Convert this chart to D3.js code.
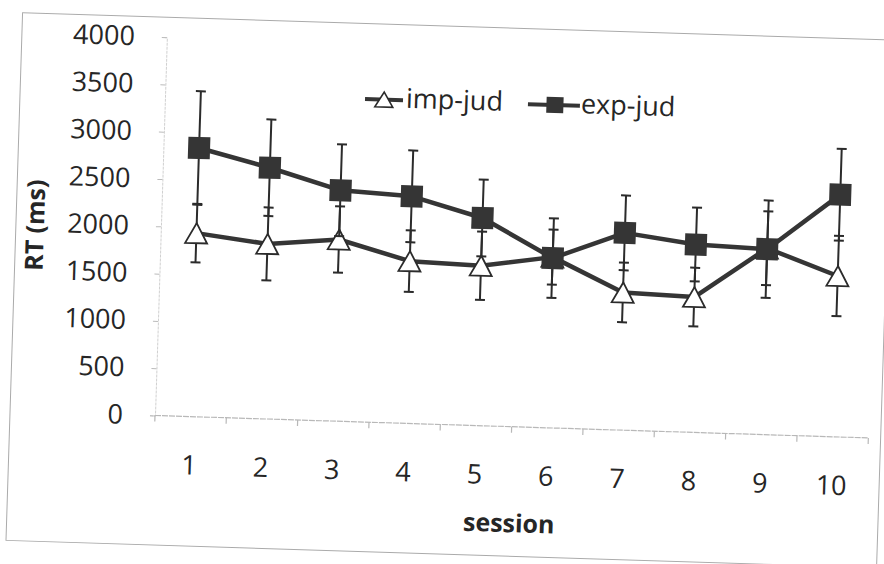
<!DOCTYPE html>
<html>
<head>
<meta charset="utf-8">
<script src="https://cdn.jsdelivr.net/npm/d3@7"></script>
<style>
  html, body { margin: 0; padding: 0; background: #fff; }
  svg { display: block; }
</style>
</head>
<body>
<svg id="chart" width="884" height="564"></svg>
<script>
// ---- data ----
const sessions = ["1","2","3","4","5","6","7","8","9","10"];
const impJud    = [1940, 1850, 1920, 1715, 1690, 1805, 1455, 1430, 1970, 1700];
const impJudErr = [310, 385, 350, 325, 360, 290, 315, 310, 390, 425];
const expJud    = [2840, 2655, 2440, 2400, 2195, 1795, 2085, 1985, 1960, 2560];
const expJudErr = [600, 510, 485, 485, 405, 420, 395, 390, 515, 485];
const yTicks = [0, 500, 1000, 1500, 2000, 2500, 3000, 3500, 4000];
const seriesNames = ["imp-jud", "exp-jud"];

// ---- layout ----
const ink = "#262626";
const svg = d3.select("#chart");
const root = svg.append("g").attr("transform", "rotate(1.8,155,415)");

const x = d3.scaleBand().domain(sessions).range([155, 868.7]).padding(0);
const y = d3.scaleLinear().domain([0, 4000]).range([415.5, 37]);
const cx = d => x(d) + x.bandwidth() / 2;

// outer chart border
root.append("rect")
  .attr("x", 10).attr("y", 17).attr("width", 871).attr("height", 528)
  .attr("fill", "none").attr("stroke", "#aaa").attr("stroke-width", 1);

// y axis
const yAxis = root.append("g").attr("transform", "translate(155,0)")
  .call(d3.axisLeft(y).tickValues(yTicks).tickSize(5).tickPadding(27).tickFormat(d3.format("d")));
yAxis.select(".domain").attr("stroke", "#d0d0d0").attr("stroke-dasharray", "3,1");
yAxis.selectAll(".tick line").attr("stroke", "#bbb");
yAxis.selectAll("text")
  .attr("font-family", "Open Sans").attr("font-size", 27).attr("fill", ink);

// x axis line + tick marks between categories
const xEdges = sessions.map(d => x(d)).concat([x(sessions[sessions.length - 1]) + x.bandwidth()]);
root.append("line")
  .attr("x1", xEdges[0]).attr("x2", xEdges[xEdges.length - 1])
  .attr("y1", y(0)).attr("y2", y(0))
  .attr("stroke", "#b8b8b8").attr("stroke-width", 1.2).attr("stroke-dasharray", "6,1");
root.selectAll(".xtick").data(xEdges).join("line")
  .attr("class", "xtick")
  .attr("x1", d => d).attr("x2", d => d)
  .attr("y1", y(0)).attr("y2", y(0) + 6)
  .attr("stroke", "#b8b8b8").attr("stroke-width", 1.2);
root.selectAll(".xlab").data(sessions).join("text")
  .attr("class", "xlab")
  .attr("x", d => cx(d)).attr("y", 473.5)
  .attr("text-anchor", "middle")
  .attr("font-family", "Open Sans").attr("font-size", 27).attr("fill", ink)
  .text(d => d);

// axis titles
root.append("text")
  .attr("x", 512).attr("y", 521)
  .attr("text-anchor", "middle")
  .attr("font-family", "Open Sans").attr("font-weight", "bold").attr("font-size", 25).attr("fill", ink)
  .text("session");
root.append("text")
  .attr("transform", "translate(38,229) rotate(-90)")
  .attr("text-anchor", "middle")
  .attr("font-family", "Open Sans").attr("font-weight", "bold").attr("font-size", 25).attr("fill", ink)
  .text("RT (ms)");

// shapes
const triW = 22, triH = 20;
const triPath = (w, h) => `M0,${-h/2}L${w/2},${h/2}L${-w/2},${h/2}Z`;
const sq = 22;

function drawSeries(vals, errs, kind) {
  const g = root.append("g");
  const pts = sessions.map((s, i) => ({ s, v: vals[i], e: errs[i] }));
  // error bars
  const eb = g.selectAll(".eb").data(pts).join("g");
  eb.append("line")
    .attr("x1", d => cx(d.s)).attr("x2", d => cx(d.s))
    .attr("y1", d => y(d.v - d.e)).attr("y2", d => y(d.v + d.e))
    .attr("stroke", "#2b2b2b").attr("stroke-width", 2);
  [1, -1].forEach(sgn => {
    eb.append("line")
      .attr("x1", d => cx(d.s) - 5).attr("x2", d => cx(d.s) + 5)
      .attr("y1", d => y(d.v + sgn * d.e)).attr("y2", d => y(d.v + sgn * d.e))
      .attr("stroke", "#2b2b2b").attr("stroke-width", 2);
  });
  // line
  g.append("path").datum(pts)
    .attr("fill", "none").attr("stroke", "#353535").attr("stroke-width", 4.5)
    .attr("stroke-linejoin", "round")
    .attr("d", d3.line().x(d => cx(d.s)).y(d => y(d.v)));
  // markers
  if (kind === "tri") {
    g.selectAll(".m").data(pts).join("path")
      .attr("transform", d => `translate(${cx(d.s)},${y(d.v)})`)
      .attr("d", triPath(triW, triH))
      .attr("fill", "#fff").attr("stroke", "#2b2b2b").attr("stroke-width", 1.8);
  } else {
    g.selectAll(".m").data(pts).join("rect")
      .attr("x", d => cx(d.s) - sq / 2).attr("y", d => y(d.v) - sq / 2)
      .attr("width", sq).attr("height", sq)
      .attr("fill", "#353535");
  }
}
drawSeries(impJud, impJudErr, "tri");
drawSeries(expJud, expJudErr, "sq");

// legend
const lg = root.append("g");
const legendY = 92.6;
// imp-jud
lg.append("line").attr("x1", 355).attr("x2", 393).attr("y1", legendY).attr("y2", legendY)
  .attr("stroke", "#353535").attr("stroke-width", 4);
lg.append("path").attr("transform", `translate(374,${legendY})`).attr("d", triPath(18, 15))
  .attr("fill", "#fff").attr("stroke", "#2b2b2b").attr("stroke-width", 1.6);
lg.append("text").attr("x", 396).attr("y", legendY + 7.5)
  .attr("font-family", "Open Sans").attr("font-size", 27).attr("fill", ink).text(seriesNames[0]);
// exp-jud
lg.append("line").attr("x1", 518).attr("x2", 570).attr("y1", legendY).attr("y2", legendY)
  .attr("stroke", "#353535").attr("stroke-width", 4);
lg.append("rect").attr("x", 545 - 8.5).attr("y", legendY - 8).attr("width", 17).attr("height", 16)
  .attr("fill", "#353535");
lg.append("text").attr("x", 571).attr("y", legendY + 7.5)
  .attr("font-family", "Open Sans").attr("font-size", 27).attr("fill", ink).text(seriesNames[1]);
</script>
</body>
</html>
